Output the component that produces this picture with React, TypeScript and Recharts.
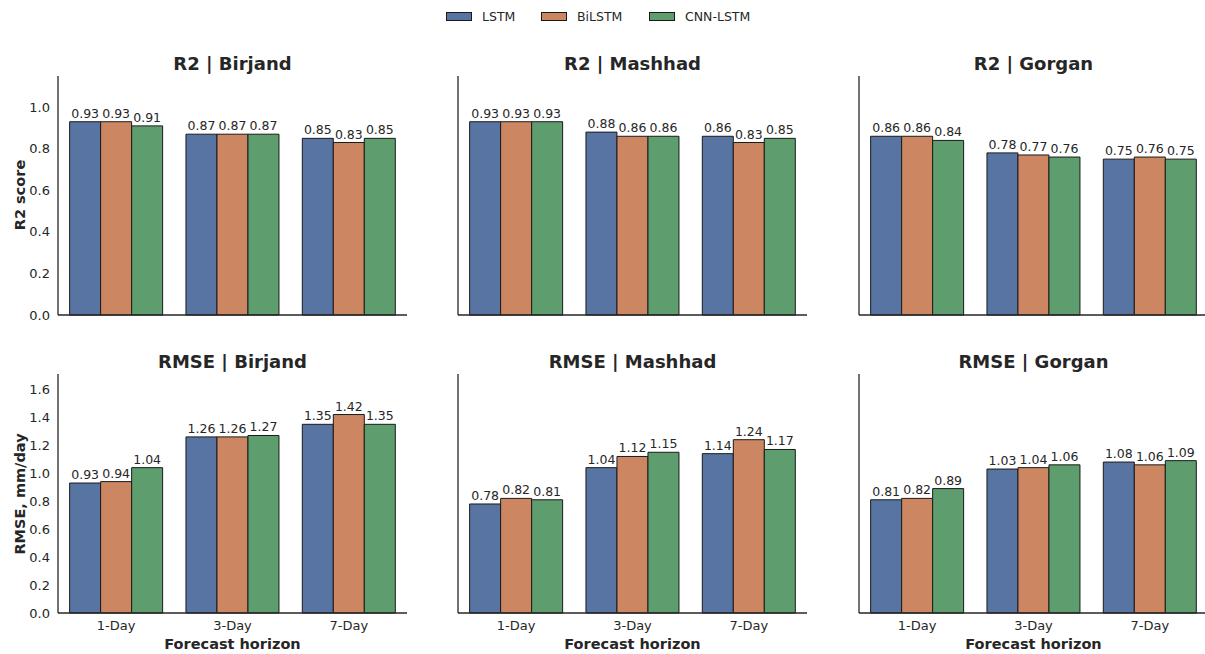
import React from "react";
import { BarChart, Bar, XAxis, YAxis, LabelList } from "recharts";

const horizons = ["1-Day", "3-Day", "7-Day"];
const models = ["LSTM", "BiLSTM", "CNN-LSTM"];
const colors = ["#5874a2", "#cc8762", "#5e9d6d"];

// each array: [LSTM, BiLSTM, CNN-LSTM] per horizon
const r2Birjand = [[0.93, 0.87, 0.85], [0.93, 0.87, 0.83], [0.91, 0.87, 0.85]];
const r2Mashhad = [[0.93, 0.88, 0.86], [0.93, 0.86, 0.83], [0.93, 0.86, 0.85]];
const r2Gorgan = [[0.86, 0.78, 0.75], [0.86, 0.77, 0.76], [0.84, 0.76, 0.75]];
const rmseBirjand = [[0.93, 1.26, 1.35], [0.94, 1.26, 1.42], [1.04, 1.27, 1.35]];
const rmseMashhad = [[0.78, 1.04, 1.14], [0.82, 1.12, 1.24], [0.81, 1.15, 1.17]];
const rmseGorgan = [[0.81, 1.03, 1.08], [0.82, 1.04, 1.06], [0.89, 1.06, 1.09]];

const r2Ticks = [0, 0.2, 0.4, 0.6, 0.8, 1.0];
const rmseTicks = [0, 0.2, 0.4, 0.6, 0.8, 1.0, 1.2, 1.4, 1.6];

const FONT = '"DejaVu Sans", sans-serif';
const INK = "#262626";

const PLOT_LEFT = [58, 458, 859];
const PLOT_W = 349;
const PLOT_TOP = [76, 374];
const PLOT_H = 239;
const TITLE_Y = [64, 362];
const Y_W = 50;
const M_TOP = 5;
const X_H = 30;

const makeData = (values: number[][]) =>
  horizons.map((h, i) => ({
    horizon: h,
    LSTM: values[0][i],
    BiLSTM: values[1][i],
    "CNN-LSTM": values[2][i],
  }));

interface PanelProps {
  title: string;
  values: number[][];
  row: number;
  col: number;
}

function Panel({ title, values, row, col }: PanelProps) {
  const isR2 = row === 0;
  const axisStyle = { stroke: INK, strokeWidth: 1.3 };
  return (
    <>
      <div
        style={{
          position: "absolute",
          left: PLOT_LEFT[col],
          width: PLOT_W,
          top: TITLE_Y[row] - 12,
          lineHeight: "24px",
          textAlign: "center",
          fontWeight: "bold",
          fontSize: 18,
          color: INK,
        }}
      >
        {title}
      </div>
      <div style={{ position: "absolute", left: PLOT_LEFT[col] - Y_W, top: PLOT_TOP[row] - M_TOP }}>
        <BarChart
          width={Y_W + PLOT_W + 5}
          height={M_TOP + PLOT_H + X_H}
          data={makeData(values)}
          margin={{ top: M_TOP, right: 5, bottom: 0, left: 0 }}
          barCategoryGap="10%"
          barGap={0}
        >
          <XAxis
            dataKey="horizon"
            height={X_H}
            tickLine={false}
            axisLine={axisStyle}
            tick={isR2 ? false : { fill: INK, fontSize: 13 }}
          />
          <YAxis
            type="number"
            width={Y_W}
            domain={isR2 ? [0, 1.15] : [0, 1.71]}
            ticks={isR2 ? r2Ticks : rmseTicks}
            tickLine={false}
            axisLine={axisStyle}
            tick={col === 0 ? { fill: INK, fontSize: 13 } : false}
            tickFormatter={(v: number) => v.toFixed(1)}
          />
          {models.map((m, i) => (
            <Bar
              key={m}
              dataKey={m}
              fill={colors[i]}
              stroke="#1a1a1a"
              strokeWidth={1}
              isAnimationActive={false}
            >
              <LabelList
                dataKey={m}
                position="top"
                offset={4}
                formatter={(v: any) => Number(v).toFixed(2)}
                style={{ fontSize: 12.5, fill: INK }}
              />
            </Bar>
          ))}
        </BarChart>
      </div>
      {row === 1 && (
        <div
          style={{
            position: "absolute",
            left: PLOT_LEFT[col],
            width: PLOT_W,
            top: 644 - 10,
            lineHeight: "20px",
            textAlign: "center",
            fontWeight: "bold",
            fontSize: 14.5,
            color: INK,
          }}
        >
          Forecast horizon
        </div>
      )}
    </>
  );
}

const YLabel = ({ text, cy }: { text: string; cy: number }) => (
  <div
    style={{
      position: "absolute",
      left: 20,
      top: cy,
      transform: "translate(-50%, -50%) rotate(-90deg)",
      whiteSpace: "nowrap",
      fontWeight: "bold",
      fontSize: 14.5,
      color: INK,
    }}
  >
    {text}
  </div>
);

export default function App() {
  const panels = [
    { title: "R2 | Birjand", values: r2Birjand },
    { title: "R2 | Mashhad", values: r2Mashhad },
    { title: "R2 | Gorgan", values: r2Gorgan },
    { title: "RMSE | Birjand", values: rmseBirjand },
    { title: "RMSE | Mashhad", values: rmseMashhad },
    { title: "RMSE | Gorgan", values: rmseGorgan },
  ];
  return (
    <div
      style={{
        position: "absolute",
        left: 0,
        top: 0,
        width: 1205,
        height: 654,
        overflow: "hidden",
        background: "#fff",
        fontFamily: FONT,
      }}
    >
      {/* legend */}
      <div style={{ position: "absolute", top: 8, left: 446, display: "flex", alignItems: "center", height: 17 }}>
        {models.map((m, i) => (
          <div key={m} style={{ display: "flex", alignItems: "center" }}>
            <div
              style={{
                width: 26,
                height: 9,
                background: colors[i],
                border: "1px solid #1a1a1a",
                boxSizing: "border-box",
              }}
            />
            <span style={{ fontSize: 12.5, color: INK, marginLeft: 10, width: i === 0 ? 59 : i === 1 ? 72 : undefined }}>
              {m}
            </span>
          </div>
        ))}
      </div>
      {panels.map((p, k) => (
        <Panel key={p.title} title={p.title} values={p.values} row={Math.floor(k / 3)} col={k % 3} />
      ))}
      <YLabel text="R2 score" cy={195} />
      <YLabel text="RMSE, mm/day" cy={494} />
    </div>
  );
}
